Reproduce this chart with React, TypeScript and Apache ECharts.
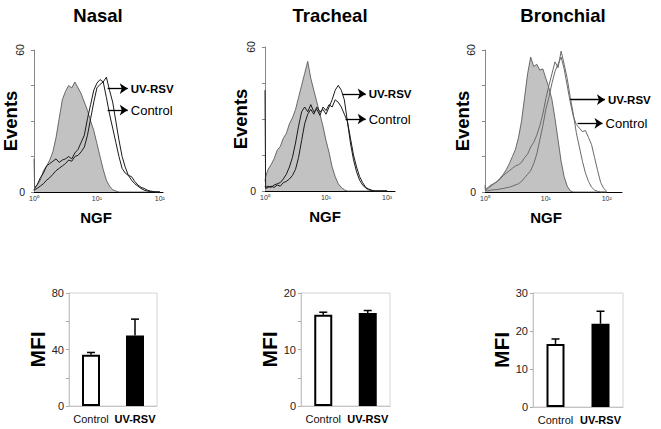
import React, { useEffect, useRef } from 'react';
import * as echarts from 'echarts';

const FONT = '"Liberation Sans", Arial, Helvetica, sans-serif';

// ---------------- data ----------------
const panelTitles = ['Nasal', 'Tracheal', 'Bronchial'];
const groups = ['Control', 'UV-RSV'];
const decadeLabels = ['10\u2070', '10\u00b9', '10\u00b2'];

// log10 fluorescence channels (0 = 10^0, 1 = 10^1, 2 = 10^2)
const channels = [
  0, 0.01, 0.05, 0.1, 0.15, 0.2, 0.25, 0.3, 0.35, 0.4, 0.45, 0.5,
  0.55, 0.6, 0.65, 0.7, 0.75, 0.8, 0.85, 0.9, 0.95, 1.0,
  1.05, 1.1, 1.15, 1.2, 1.25, 1.3, 1.35, 1.4, 1.45, 1.5,
  1.55, 1.6, 1.65, 1.7, 1.75, 1.8, 1.85, 1.9, 1.95, 2.0,
];

// Nasal
const nasalIsotype = [
  14, 2, 3, 5, 9, 11, 13.5, 17, 23, 31, 39, 42.5,
  45, 44, 46.5, 44, 41.5, 38, 34.5, 30, 26, 20.5,
  15, 9.5, 5, 2.5, 1, 0.4, 0, 0, 0, 0,
  0, 0, 0, 0, 0, 0, 0, 0, 0, 0,
];
const nasalControl = [
  0.5, 1, 1.5, 2.5, 3.5, 5, 6, 7.5, 9, 10, 11, 12,
  13.5, 13, 15, 15.5, 17, 19, 24, 31, 38, 44,
  45.5, 46.5, 40, 33, 27, 21, 15, 10, 8, 7,
  6.5, 4.5, 3, 2, 1.5, 0.8, 0.4, 0.2, 0, 0,
];
const nasalUV = [
  1, 1.5, 3, 6, 8, 11, 12, 13, 14, 12.5, 13.5, 14,
  15, 14, 16.5, 18, 21, 24, 31, 37, 43, 46,
  47.5, 46.5, 48.5, 43, 38, 30, 22, 15, 10.5, 7,
  5, 3.5, 2.5, 1.5, 0.8, 0.4, 0.2, 0, 0, 0,
];

// Tracheal
const trachealIsotype = [
  4, 6, 9, 11, 13.5, 17, 18.5, 22, 24, 28, 30.5, 34,
  39, 44, 49, 54, 47, 42, 37, 32, 27, 21,
  16, 10, 6, 3, 1.5, 0.5, 0, 0, 0, 0,
  0, 0, 0, 0, 0, 0, 0, 0, 0, 0,
];
const trachealControl = [
  2, 1.5, 2, 1.5, 2.5, 3, 3.5, 5, 7, 10, 14, 20,
  27, 33, 35, 33, 36, 33, 34, 31.5, 35, 33.5,
  36, 35, 38, 37, 35, 32, 29, 22, 15, 10,
  6, 3.5, 1.5, 0.8, 0.3, 0, 0, 0, 0, 0,
];
const trachealUV = [
  42, 1, 1.5, 2, 1.5, 2.5, 2, 3.5, 4, 5, 6.5, 9,
  14, 21, 28, 32, 34, 32, 35, 33, 34, 32,
  35, 38, 42, 44, 42, 38, 29, 20, 13, 8,
  4.5, 2.5, 1.2, 0.5, 0.2, 0, 0, 0, 0, 0,
];

// Bronchial
const bronchialIsotype = [
  2, 1, 1.5, 2.5, 3.7, 4.5, 5.9, 7.5, 9.5, 12, 15, 18,
  23, 30, 40, 50, 57, 53, 54, 51.5, 52, 48,
  44, 39, 31, 22, 13, 6.5, 2.5, 0.5, 0, 0,
  0, 0, 0, 0, 0, 0, 0, 0, 0, 0,
];
const bronchialControl = [
  1, 0.5, 0.5, 0.8, 1, 1, 1.3, 1.5, 1.8, 2, 2.5, 3,
  3.5, 4.5, 6, 7.5, 9, 12, 16, 22, 28, 35,
  40, 46, 51, 54, 57, 52, 45, 38, 32, 28.5,
  27, 25.5, 26, 23, 20, 14.5, 9, 4, 1.5, 0.3,
];
const bronchialUV = [
  3, 1, 2, 3, 3.5, 4.5, 5.5, 7, 8, 9, 10, 11,
  11.5, 12.5, 14.5, 16, 19, 21, 24, 28, 33, 39.5,
  45, 50, 55, 52.5, 59.5, 54, 48, 40, 33, 25,
  19, 13, 8, 4.5, 2, 0.8, 0.3, 0, 0, 0,
];

// arrow annotations: [fromChannel, toChannel, events level]
const arrowsUV = [[1.17, 1.49, 43.7], [1.27, 1.65, 40.5], [1.4, 1.97, 39]];
const arrowsControl = [[1.17, 1.49, 34.6], [1.32, 1.65, 30], [1.52, 1.93, 29]];

// histogram y-axis labelled ticks
const eventsMinLabel = 0;
const eventsMaxLabel = 60;

// MFI bar charts: [Control, UV-RSV]
const mfiNasal = [36.2, 49.9];
const mfiNasalErr = [1.7, 11.6];
const mfiTracheal = [16.15, 16.45];
const mfiTrachealErr = [0.45, 0.45];
const mfiBronchial = [16.6, 21.9];
const mfiBronchialErr = [1.3, 3.3];
const mfiMax = [80, 20, 30];
const mfiInterval = [20, 5, 10];
const mfiLabelStep = [40, 10, 10];

// ---------------- layout ----------------
const histGrids = [
  { left: 34, top: 50, width: 129, height: 142, xMax: 2.05 },
  { left: 265, top: 47, width: 130, height: 144, xMax: 2.13 },
  { left: 485, top: 50, width: 137, height: 142, xMax: 2.25 },
];
const barGrids = [
  { left: 69, top: 293, width: 88, height: 113 },
  { left: 301, top: 293, width: 89, height: 113 },
  { left: 533, top: 293, width: 90, height: 114 },
];
const titlePos = [[98, 15], [330, 15], [563, 15]];
const ngfPos = [[96, 217], [325, 216], [546, 217]];
const eventsGap = [14, 15, 13];
const mfiGap = [21, 19, 18];

export default function App() {
  const ref = useRef<HTMLDivElement>(null);

  useEffect(() => {
    if (!ref.current) return;
    const chart = echarts.init(ref.current, undefined, { renderer: 'svg' });

    const histData = [
      [nasalIsotype, nasalControl, nasalUV],
      [trachealIsotype, trachealControl, trachealUV],
      [bronchialIsotype, bronchialControl, bronchialUV],
    ];
    const lineColors = ['#1a1a1a', '#1a1a1a', '#6a6a6a'];
    const mfi = [mfiNasal, mfiTracheal, mfiBronchial];
    const mfiErr = [mfiNasalErr, mfiTrachealErr, mfiBronchialErr];

    const grid: any[] = [];
    const xAxis: any[] = [];
    const yAxis: any[] = [];
    const series: any[] = [];

    histGrids.forEach((g) => {
      grid.push({ left: g.left, top: g.top, width: g.width, height: g.height });
    });
    barGrids.forEach((g) => {
      grid.push({
        left: g.left, top: g.top, width: g.width, height: g.height,
        show: true, borderColor: '#d4d4d4', borderWidth: 1, backgroundColor: 'transparent',
      });
    });

    // histogram axes
    histGrids.forEach((g, i) => {
      xAxis.push({
        type: 'value', gridIndex: i, min: 0, max: g.xMax, interval: 1,
        axisLine: { lineStyle: { color: '#000', width: 1 } },
        axisTick: { show: false },
        splitLine: { show: false },
        axisLabel: {
          fontSize: 7, color: '#333', margin: 3, fontFamily: FONT,
          showMinLabel: true,
          formatter: (v: number) => {
            const r = Math.round(v);
            return Math.abs(v - r) < 1e-6 && r >= 0 && r <= 2 ? decadeLabels[r] : '';
          },
        },
      });
      yAxis.push({
        type: 'value', gridIndex: i, position: 'left', min: 0, max: 60, interval: 15,
        axisLine: { show: true, lineStyle: { color: '#888', width: 1 } },
        axisTick: { show: true, length: 3, lineStyle: { color: '#888' } },
        splitLine: { show: false },
        axisLabel: { show: false },
        name: 'Events', nameLocation: 'middle', nameGap: eventsGap[i],
        nameTextStyle: { fontSize: 18.5, fontWeight: 'bold', color: '#000', fontFamily: FONT },
      });
      yAxis.push({
        type: 'value', gridIndex: i, position: 'left', offset: 0, min: 0, max: 60, interval: 15,
        axisLine: { show: false }, axisTick: { show: false }, splitLine: { show: false },
        axisLabel: {
          fontSize: 10.5, color: '#222', margin: 9, rotate: 90, fontFamily: FONT,
          showMaxLabel: true,
          formatter: (v: number) => (v === eventsMaxLabel ? String(eventsMaxLabel) : ''),
        },
      });
    });

    // bar axes
    barGrids.forEach((g, i) => {
      xAxis.push({
        type: 'category', gridIndex: 3 + i, data: groups,
        axisLine: { lineStyle: { color: '#c4c4c4' } },
        axisTick: { show: false },
        axisLabel: {
          interval: 0, margin: 7, color: '#000',
          formatter: (v: string) => (v === 'UV-RSV' ? '{b|' + v + '}' : '{n|' + v + '}'),
          rich: {
            b: { fontSize: 11, fontWeight: 'bold', fontFamily: FONT, color: '#000' },
            n: { fontSize: 11, fontFamily: FONT, color: '#111' },
          },
        },
      });
      yAxis.push({
        type: 'value', gridIndex: 3 + i, min: 0, max: mfiMax[i], interval: mfiInterval[i],
        axisLine: { show: true, lineStyle: { color: '#c4c4c4' } },
        axisTick: { show: true, length: 3, lineStyle: { color: '#aaa' } },
        splitLine: { show: false },
        axisLabel: {
          fontSize: 11, color: '#222', margin: 5, fontFamily: FONT,
          showMinLabel: true, showMaxLabel: true,
          formatter: (v: number) => (v % mfiLabelStep[i] === 0 ? String(v) : ''),
        },
        name: 'MFI', nameLocation: 'middle', nameGap: mfiGap[i],
        nameTextStyle: { fontSize: 21, fontWeight: 'bold', color: '#000', fontFamily: FONT },
      });
    });

    const arrowLine = (a: number[], text: string, bold: boolean) => ({
      silent: true,
      symbol: ['none', 'arrow'],
      symbolSize: 8,
      lineStyle: { color: '#000', width: 1.3, type: 'solid' },
      label: {
        show: true, position: 'end', distance: 3, formatter: text, color: '#000',
        fontFamily: FONT, fontSize: bold ? 11.5 : 13, fontWeight: bold ? 'bold' : 'normal',
      },
      emphasis: { disabled: true },
      data: [[{ coord: [a[0], a[2]] }, { coord: [a[1], a[2]] }]],
    });

    histData.forEach((sets, i) => {
      const [iso, ctrl, uv] = sets;
      series.push({
        type: 'line', xAxisIndex: i, yAxisIndex: 2 * i, symbol: 'none', silent: true,
        data: channels.map((c, k) => [c, iso[k]]),
        lineStyle: { color: '#4a4a4a', width: 0.8 },
        areaStyle: { color: '#c2c2c2', opacity: 1 },
        z: 1,
      });
      series.push({
        type: 'line', xAxisIndex: i, yAxisIndex: 2 * i, symbol: 'none', silent: true,
        data: channels.map((c, k) => [c, ctrl[k]]),
        lineStyle: { color: lineColors[i], width: 1 },
        markLine: arrowLine(arrowsControl[i], 'Control', false),
        z: 2,
      });
      series.push({
        type: 'line', xAxisIndex: i, yAxisIndex: 2 * i, symbol: 'none', silent: true,
        data: channels.map((c, k) => [c, uv[k]]),
        lineStyle: { color: lineColors[i], width: 1 },
        markLine: arrowLine(arrowsUV[i], 'UV-RSV', true),
        z: 2,
      });
    });

    mfi.forEach((vals, i) => {
      series.push({
        type: 'bar', xAxisIndex: 3 + i, yAxisIndex: 6 + i, barWidth: 18, silent: true,
        data: [
          { value: vals[0], itemStyle: { color: '#fff', borderColor: '#000', borderWidth: 2 } },
          { value: vals[1], itemStyle: { color: '#000' } },
        ],
        z: 2,
      });
      series.push({
        type: 'custom', xAxisIndex: 3 + i, yAxisIndex: 6 + i, silent: true,
        data: groups.map((g, k) => [k, vals[k], mfiErr[i][k]]),
        renderItem: (params: any, api: any) => {
          const base = api.coord([api.value(0), api.value(1)]);
          const top = api.coord([api.value(0), api.value(1) + api.value(2)]);
          const st = { stroke: '#000', lineWidth: 1.5 };
          return {
            type: 'group',
            children: [
              { type: 'line', shape: { x1: base[0], y1: base[1], x2: top[0], y2: top[1] }, style: st },
              { type: 'line', shape: { x1: top[0] - 4, y1: top[1], x2: top[0] + 4, y2: top[1] }, style: st },
            ],
          };
        },
        z: 1,
      });
    });

    const graphic: any[] = [];
    panelTitles.forEach((t, i) => {
      graphic.push({
        type: 'text', x: titlePos[i][0], y: titlePos[i][1], silent: true,
        style: {
          text: t, fill: '#000', font: `bold 18.5px ${FONT}`,
          align: 'center', verticalAlign: 'middle', textAlign: 'center', textVerticalAlign: 'middle',
        },
      });
      graphic.push({
        type: 'text', x: ngfPos[i][0], y: ngfPos[i][1], silent: true,
        style: {
          text: 'NGF', fill: '#000', font: `bold 15px ${FONT}`,
          align: 'center', verticalAlign: 'middle', textAlign: 'center', textVerticalAlign: 'middle',
        },
      });
    });

    chart.setOption({
      animation: false,
      backgroundColor: '#fff',
      textStyle: { fontFamily: FONT },
      grid, xAxis, yAxis, series,
    });

    // "0" tick label of each histogram's Events axis, placed through the axis scale
    histGrids.forEach((g, i) => {
      const p = chart.convertToPixel({ xAxisIndex: i, yAxisIndex: 2 * i } as any, [0, eventsMinLabel]) as number[];
      if (p) {
        graphic.push({
          type: 'text', x: p[0] - 9, y: p[1], silent: true,
          style: {
            text: String(eventsMinLabel), fill: '#222', font: `10.5px ${FONT}`,
            align: 'right', verticalAlign: 'middle', textAlign: 'right', textVerticalAlign: 'middle',
          },
        });
      }
    });

    chart.setOption({ graphic });

    return () => chart.dispose();
  }, []);

  return (
    <div
      ref={ref}
      style={{ position: 'fixed', left: 0, top: 0, width: 661, height: 429, background: '#fff' }}
    />
  );
}
